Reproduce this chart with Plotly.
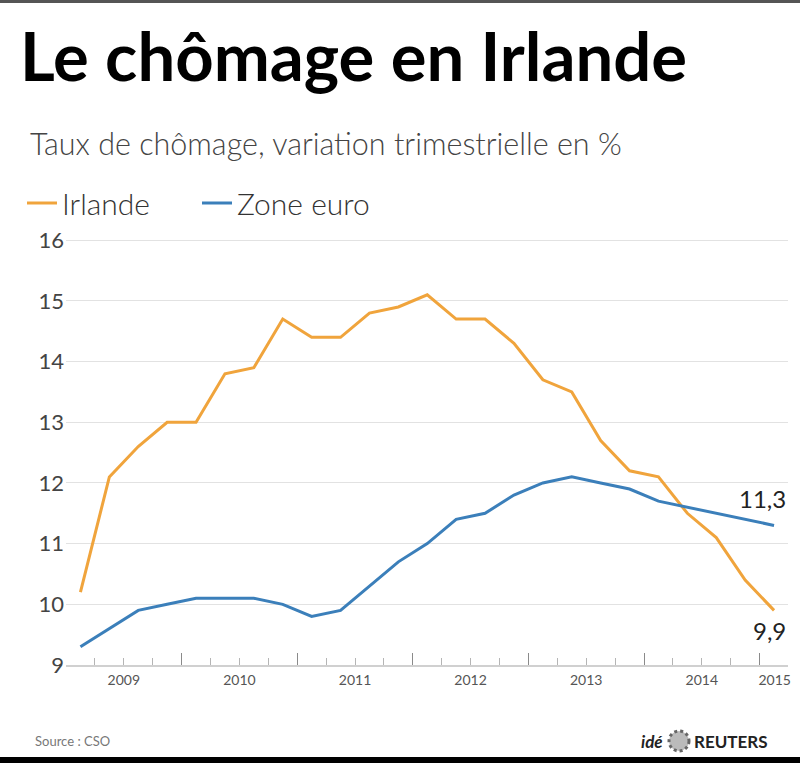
import plotly.graph_objects as go

# ---------------- data ----------------
first_year = 2009
years = [2009, 2010, 2011, 2012, 2013, 2014, 2015]
year_labels = ["2009", "2010", "2011", "2012", "2013", "2014", "2015"]
irlande = [10.2, 12.1, 12.6, 13.0, 13.0, 13.8, 13.9, 14.7, 14.4, 14.4, 14.8, 14.9, 15.1,
           14.7, 14.7, 14.3, 13.7, 13.5, 12.7, 12.2, 12.1, 11.5, 11.1, 10.4, 9.9]
zone_euro = [9.3, 9.6, 9.9, 10.0, 10.1, 10.1, 10.1, 10.0, 9.8, 9.9, 10.3, 10.7, 11.0,
             11.4, 11.5, 11.8, 12.0, 12.1, 12.0, 11.9, 11.7, 11.6, 11.5, 11.4, 11.3]
y_ticks = [9, 10, 11, 12, 13, 14, 15, 16]

# quarter midpoints
xpos = [first_year + (i + 0.5) / 4 for i in range(len(irlande))]

# ---------------- layout geometry ----------------
W, H = 800, 763
L, R, T, B = 66, 12, 239, 98
PW, PH = W - L - R, H - T - B
x_range = [2009, 2009 + PW / 115.6]
y_range = [9, 16.02]


def px_x(px):
    return (px - L) / PW


def px_y(py):
    return (H - B - py) / PH


ORANGE = "#F0A43C"
BLUE = "#3B7FBA"
FONT = "Lato"

fig = go.Figure()
fig.add_trace(go.Scatter(x=xpos, y=irlande, name="Irlande", mode="lines",
                         line=dict(color=ORANGE, width=3)))
fig.add_trace(go.Scatter(x=xpos, y=zone_euro, name="Zone euro", mode="lines",
                         line=dict(color=BLUE, width=3)))
# dummy trace to materialise the label axis
fig.add_trace(go.Scatter(x=[x_range[0]], y=[9], xaxis="x2", mode="markers",
                         marker=dict(opacity=0), showlegend=False, hoverinfo="skip"))

quarter_bounds = [y + k / 4 for y in years for k in (1, 2, 3) if y + k / 4 < x_range[1]]
label_pos = [y + 0.5 for y in years[:-1]] + [2015.13]

fig.update_layout(
    width=W, height=H,
    margin=dict(l=L, r=R, t=T, b=B, autoexpand=False),
    paper_bgcolor="white", plot_bgcolor="white",
    font=dict(family=FONT, color="#444"),
    title=dict(text="<b>Le chômage en Irlande</b>", font=dict(family=FONT, size=67, color="#000"),
               xref="container", x=20 / W, xanchor="left",
               yref="container", y=1 - 58 / H, yanchor="middle"),
    showlegend=True,
    legend=dict(orientation="h", xref="container", x=22 / W, xanchor="left",
                yref="container", y=1 - 203 / H, yanchor="middle",
                font=dict(family=FONT, size=30, color="#333", weight=300),
                entrywidth=130, entrywidthmode="pixels", itemwidth=30,
                bgcolor="rgba(0,0,0,0)"),
    xaxis=dict(range=x_range, tickvals=years, ticktext=[""] * len(years),
               ticks="inside", ticklen=12, tickwidth=1.3, tickcolor="#8a8a8a",
               showline=True, linecolor="#d0d0d0", linewidth=1.5,
               showgrid=False, zeroline=False, fixedrange=True,
               minor=dict(tickvals=quarter_bounds, ticks="inside", ticklen=7,
                          tickwidth=1, tickcolor="#b5b5b5", showgrid=False)),
    xaxis2=dict(range=x_range, overlaying="x", anchor="y", side="bottom",
                tickvals=label_pos, ticktext=year_labels, ticks="",
                showline=False, showgrid=False, zeroline=False, fixedrange=True,
                tickfont=dict(family=FONT, size=14, color="#555"), ticklabelstandoff=5),
    yaxis=dict(range=y_range, tickvals=y_ticks, ticks="", showline=False,
               gridcolor="#e2e2e2", gridwidth=1.2, zeroline=False, fixedrange=True,
               tickfont=dict(family=FONT, size=22, color="#444"), ticklabelstandoff=1),
)

fmt = lambda v: f"{v:.1f}".replace(".", ",")
annotations = [
    dict(text="Taux de chômage, variation trimestrielle en %", xref="paper", yref="paper",
         x=px_x(28), y=px_y(143), xanchor="left", yanchor="middle", showarrow=False,
         font=dict(family=FONT, size=30.5, color="#444", weight=300)),
    dict(text=fmt(zone_euro[-1]), x=xpos[-1], y=zone_euro[-1], xref="x", yref="y",
         showarrow=False, xshift=-12, yshift=27, font=dict(family=FONT, size=24, color="#222")),
    dict(text=fmt(irlande[-1]), x=xpos[-1], y=irlande[-1], xref="x", yref="y",
         showarrow=False, xshift=-5, yshift=-20, font=dict(family=FONT, size=24, color="#222")),
    dict(text="Source : CSO", xref="paper", yref="paper", x=px_x(33), y=px_y(741),
         xanchor="left", yanchor="middle", showarrow=False,
         font=dict(family=FONT, size=13, color="#777")),
    dict(text="<b><i>idé</i></b>", xref="paper", yref="paper", x=px_x(665), y=px_y(741),
         xanchor="right", yanchor="middle", showarrow=False,
         font=dict(family=FONT, size=17, color="#222")),
    dict(text="<b>REUTERS</b>", xref="paper", yref="paper", x=px_x(692), y=px_y(741),
         xanchor="left", yanchor="middle", showarrow=False,
         font=dict(family=FONT, size=17, color="#222")),
]
fig.update_layout(annotations=annotations)

shapes = [
    dict(type="rect", xref="paper", yref="paper", x0=px_x(0), x1=px_x(W), y0=px_y(0), y1=px_y(3),
         fillcolor="#555", line=dict(width=0)),
    dict(type="rect", xref="paper", yref="paper", x0=px_x(0), x1=px_x(W), y0=px_y(757), y1=px_y(H),
         fillcolor="#000", line=dict(width=0)),
    dict(type="circle", xref="paper", yref="paper", x0=px_x(669), x1=px_x(689),
         y0=px_y(731), y1=px_y(751), fillcolor="#bbb", line=dict(color="#666", width=3, dash="dot")),
]
fig.update_layout(shapes=shapes)

fig.write_html("out.html", config={"displayModeBar": False},
               post_script="document.body.style.margin='0';document.body.style.overflow='hidden';")
